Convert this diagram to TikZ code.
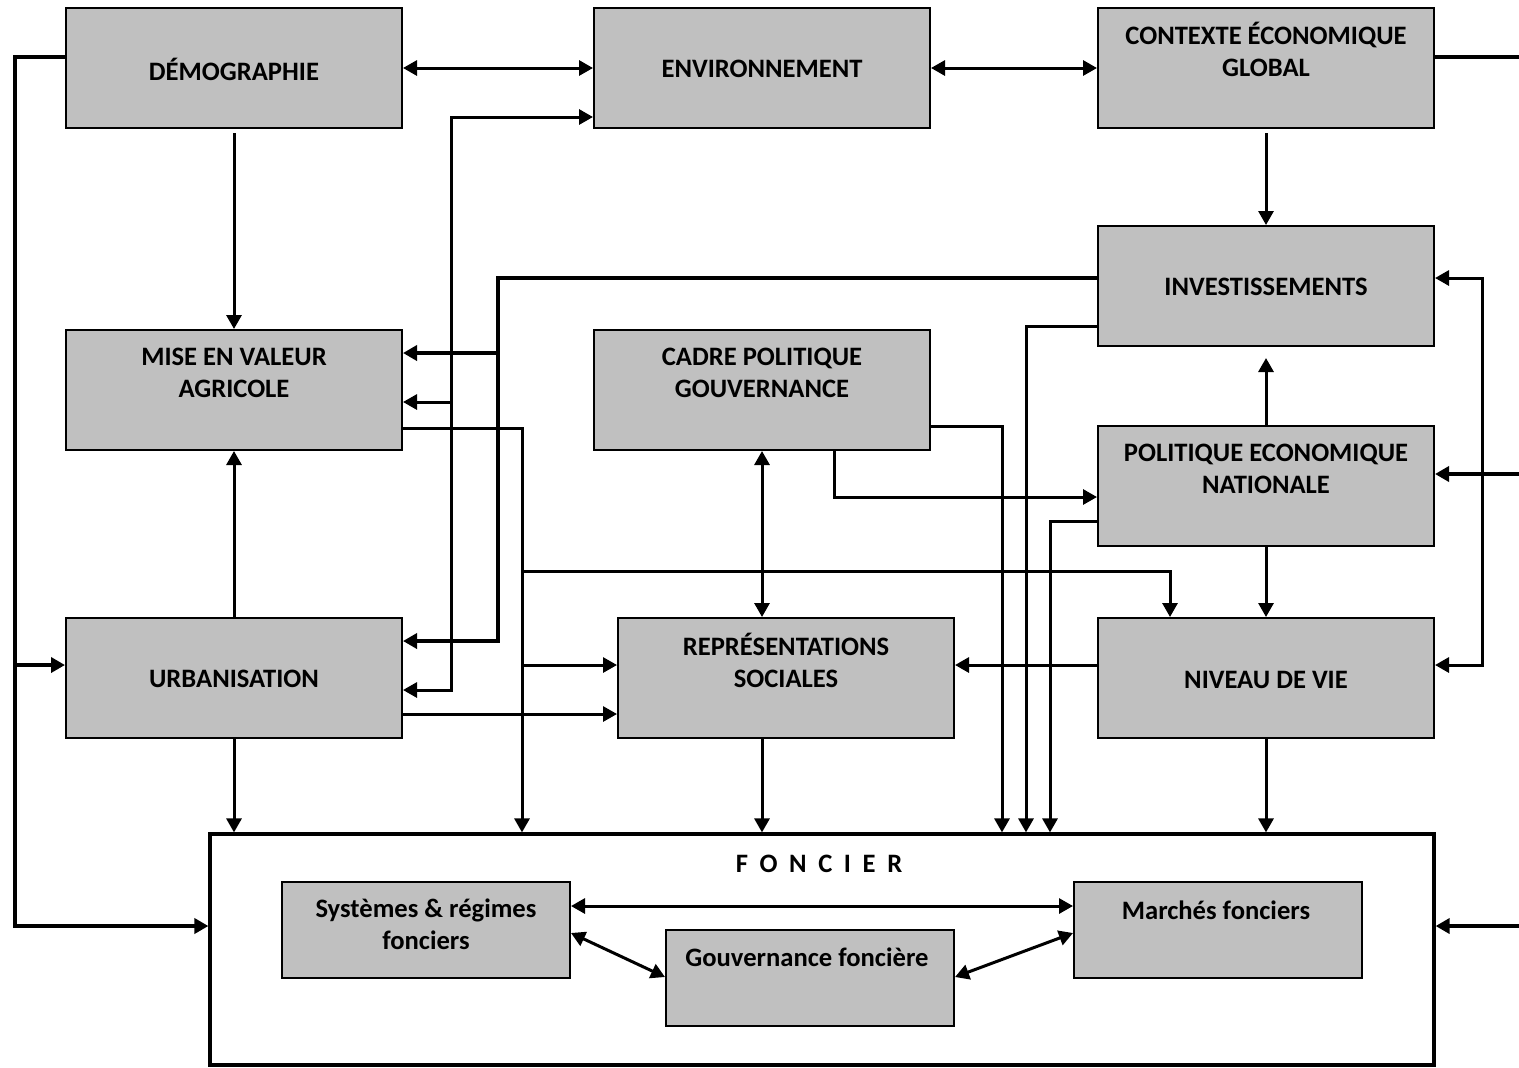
\documentclass[tikz,border=0pt]{standalone}
\usepackage{fontspec}
\setmainfont{Carlito}
\usetikzlibrary{arrows.meta}
\definecolor{boxgray}{HTML}{C0C0C0}
\begin{document}
\begin{tikzpicture}[x=0.5pt,y=-0.5pt,
 box/.style={draw=black,fill=boxgray,line width=1pt,minimum width=168pt,minimum height=60pt,inner sep=0pt},
 sbox/.style={box,minimum width=144pt,minimum height=48pt},
 txt/.style={font=\bfseries\fontsize{13.3}{16}\selectfont,align=center,inner sep=0pt},
 ln/.style={line width=1.5pt},
 thk/.style={line width=2.2pt},
 arr/.style={-{Triangle[length=7pt,width=7.5pt]}},
 darr/.style={{Triangle[length=7pt,width=7.5pt]}-{Triangle[length=7pt,width=7.5pt]}},
]
\useasboundingbox[fill=white] (0,0) rectangle (1519,1067);

% main boxes
\node[box] (dem) at (234,68) {};
\node[box] (env) at (762,68) {};
\node[box] (ceg) at (1266,68) {};
\node[box] (inv) at (1266,286) {};
\node[box] (mva) at (234,390) {};
\node[box] (cad) at (762,390) {};
\node[box] (pen) at (1266,486) {};
\node[box] (urb) at (234,678) {};
\node[box] (rep) at (786,678) {};
\node[box] (ndv) at (1266,678) {};
\node[draw=black,line width=1.6pt,fill=white,minimum width=612pt,minimum height=115.5pt,inner sep=0pt] (fon) at (822,949.5) {};
\node[sbox] (sys) at (426,930) {};
\node[sbox] (gov) at (810,977.5) {};
\node[sbox] (mar) at (1218,930) {};

% texts
\node[txt] (tdem) at (234,69) {DÉMOGRAPHIE};
\node[txt] (tenv) at (762,69) {ENVIRONNEMENT};
\node[txt] (tceg) at (1266,49) {CONTEXTE ÉCONOMIQUE\\GLOBAL};
\node[txt] (tinv) at (1266,287) {INVESTISSEMENTS};
\node[txt] (tmva) at (234,373) {MISE EN VALEUR\\AGRICOLE};
\node[txt] (tcad) at (762,373) {CADRE POLITIQUE\\GOUVERNANCE};
\node[txt] (tpen) at (1266,469) {POLITIQUE ECONOMIQUE\\NATIONALE};
\node[txt] (turb) at (234,679) {URBANISATION};
\node[txt] (trep) at (786,660) {REPRÉSENTATIONS\\SOCIALES};
\node[txt] (tndv) at (1266,680) {NIVEAU DE VIE};
\node[txt] (tfon) at (819,864) {{\spaceskip=5.8pt F O N C I E R}};
\node[txt] (tsys) at (426,924) {Systèmes \& régimes\\fonciers};
\node[txt] (tgov) at (807,957) {Gouvernance foncière};
\node[txt] (tmar) at (1216,910) {Marchés fonciers};

% helper coordinates
\coordinate (L1) at (15,57);
\coordinate (L2) at (15,926);
\coordinate (L3) at (15,665);
\coordinate (R1) at (1519,57);
\coordinate (R2) at (1519,474);
\coordinate (R3) at (1519,926);

% top row
\draw[ln,darr] (dem.east) -- (env.west);
\draw[ln,darr] (env.east) -- (ceg.west);
\draw[thk] (ceg.east |- R1) -- (R1);

% left loop from demographie
\draw[thk,arr] (dem.west |- L1) -- (L1) -- (L2) -- (fon.west |- L2);
\draw[thk,arr] (L3) -- (urb.west |- L3);

% demographie / urbanisation to mise en valeur
\draw[ln,arr] ([yshift=-2pt]dem.south) -- (mva.north);
\draw[ln,arr] (urb.north) -- (mva.south);

% line at x=451
\draw[ln,darr] (env.west |- 0,117) -- (451,117) -- (451,690) -- (urb.east |- 0,690);
\draw[ln,arr] (451,402) -- (mva.east |- 0,402);

% investissements to mva / urb
\draw[thk,arr] (inv.west |- 0,278) -- (498,278) -- (498,641) -- (urb.east |- 0,641);
\draw[thk,arr] (498,353) -- (mva.east |- 0,353);

% mva right line
\draw[ln,arr] (mva.east |- 0,428) -- (522,428) -- (fon.north -| 522,0);
\draw[ln,arr] (522,571) -- (1170,571) -- (ndv.north -| 1170,0);
\draw[ln,arr] (522,665) -- (rep.west |- 0,665);

% urbanisation
\draw[ln,arr] (urb.east |- 0,714) -- (rep.west |- 0,714);
\draw[ln,arr] (urb.south) -- (fon.north -| urb.south);

% cadre politique
\draw[ln,darr] (cad.south) -- (rep.north -| cad.south);
\draw[ln,arr] (cad.south -| 834,0) -- (834,497) -- (pen.west |- 0,497);
\draw[ln,arr] (cad.east |- 0,426) -- (1002,426) -- (fon.north -| 1002,0);

% investissements / politique economique to foncier
\draw[ln,arr] (inv.west |- 0,326) -- (1026,326) -- (fon.north -| 1026,0);
\draw[ln,arr] (pen.west |- 0,521) -- (1050,521) -- (fon.north -| 1050,0);

% right column
\draw[ln,arr] ([yshift=-2pt]ceg.south) -- (inv.north);
\draw[ln,arr] (pen.north) -- ([yshift=-5.5pt]inv.south);
\draw[ln,arr] (pen.south) -- (ndv.north);
\draw[ln,arr] (ndv.west |- 0,665) -- (rep.east |- 0,665);
\draw[ln,arr] (ndv.south) -- (fon.north -| ndv.south);
\draw[ln,arr] (rep.south -| 762,0) -- (fon.north -| 762,0);

% right loop
\draw[ln,darr] (inv.east |- 0,278) -- (1482,278) -- (1482,665) -- (ndv.east |- 0,665);
\draw[thk,arr] (R2) -- (pen.east |- R2);
\draw[thk,arr] (R3) -- (fon.east |- R3);

% inside foncier
\draw[ln,darr] (sys.east |- 0,906) -- (mar.west |- 0,906);
\draw[ln,darr] (sys.east |- 0,933) -- (gov.west |- 0,977);
\draw[ln,darr] (gov.east |- 0,977) -- (mar.west |- 0,933);
\end{tikzpicture}
\end{document}
